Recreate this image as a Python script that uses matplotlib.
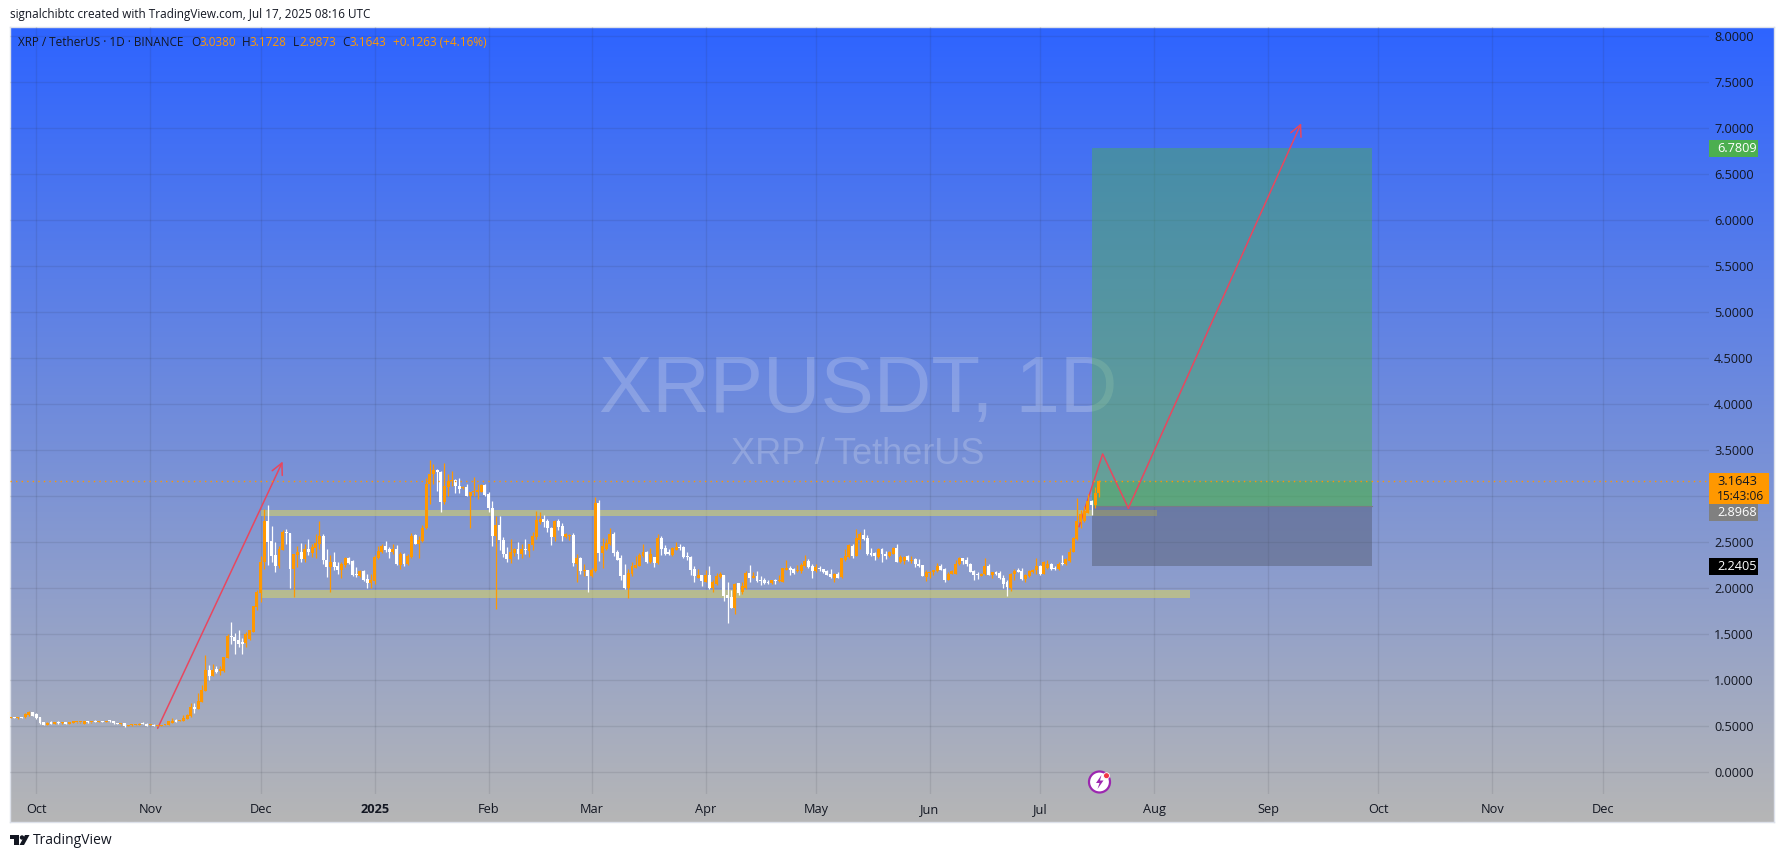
import numpy as np
import pandas as pd
import matplotlib
matplotlib.use('Agg')
import matplotlib.pyplot as plt
import matplotlib.dates as mdates
from matplotlib.patches import Rectangle, Circle, Polygon

plt.rcParams['font.family'] = ['Open Sans', 'DejaVu Sans']

# daily candles from 2024-09-24 to 2025-07-17
first_day = '2024-09-24'
opens = [
    .590,.598,.590,.598,.596,.620,.650,.633,.596,.546,
    .518,.540,.530,.540,.532,.538,.530,.540,.544,.542,
    .530,.553,.542,.556,.548,.552,.548,.556,.553,.535,
    .524,.535,.505,.512,.516,.518,.535,.528,.514,.514,
    .505,.503,.514,.514,.539,.564,.557,.557,.579,.611,
    .709,.687,.767,.882,1.117,1.049,1.121,1.099,1.099,1.244,
    1.479,1.468,1.435,1.414,1.406,1.453,1.524,1.797,1.949,2.284,
    2.726,2.509,2.357,2.237,2.418,2.606,2.599,2.205,2.357,2.389,
    2.321,2.422,2.382,2.44,2.48,2.563,2.31,2.227,2.281,2.237,
    2.194,2.248,2.328,2.295,2.154,2.133,2.187,2.097,2.053,2.078,
    2.328,2.393,2.454,2.425,2.389,2.422,2.256,2.368,2.259,2.339,
    2.577,2.483,2.509,2.653,3.134,3.242,3.289,3.268,2.942,3.098,
    3.163,3.177,3.116,3.094,3.105,3.008,3.044,3.051,3.044,3.127,
    3.026,2.874,2.563,2.693,2.527,2.375,2.313,2.386,2.422,2.375,
    2.422,2.404,2.465,2.556,2.718,2.754,2.726,2.66,2.556,2.736,
    2.682,2.556,2.563,2.574,2.266,2.328,2.187,2.194,2.129,2.183,
    2.932,2.378,2.422,2.476,2.595,2.389,2.328,2.14,2.003,2.158,
    2.223,2.241,2.35,2.389,2.281,2.335,2.27,2.545,2.436,2.389,
    2.357,2.418,2.444,2.447,2.346,2.339,2.205,2.115,2.14,2.071,
    2.14,2.006,2.042,2.118,2.14,1.923,1.905,1.786,2.053,1.956,
    2.003,2.162,2.115,2.133,2.086,2.086,2.068,2.057,2.089,2.075,
    2.071,2.201,2.216,2.209,2.187,2.187,2.237,2.292,2.241,2.183,
    2.22,2.209,2.187,2.151,2.115,2.158,2.122,2.31,2.339,2.462,
    2.346,2.527,2.581,2.548,2.382,2.382,2.339,2.422,2.375,2.346,
    2.375,2.436,2.284,2.295,2.35,2.295,2.313,2.266,2.248,2.122,
    2.169,2.176,2.183,2.245,2.209,2.086,2.158,2.158,2.259,2.324,
    2.303,2.266,2.187,2.151,2.136,2.151,2.237,2.147,2.172,2.165,
    2.115,2.064,2.006,2.151,2.194,2.187,2.1,2.129,2.172,2.194,
    2.241,2.158,2.223,2.259,2.216,2.205,2.266,2.259,2.295,2.393,
    2.534,2.718,2.726,2.823,2.953,2.91,3.038]
highs = [
    .600,.600,.600,.602,.640,.662,.660,.642,.605,.548,
    .545,.552,.548,.560,.542,.540,.545,.548,.548,.548,
    .555,.556,.550,.566,.556,.556,.556,.566,.560,.540,
    .530,.538,.516,.520,.522,.535,.542,.532,.530,.524,
    .515,.518,.528,.558,.593,.575,.572,.618,.629,.749,
    .749,.857,.947,1.273,1.164,1.182,1.153,1.153,1.255,1.508,
    1.634,1.515,1.544,1.457,1.526,1.55,1.812,1.978,2.346,2.863,
    2.91,2.682,2.501,2.454,2.628,2.646,2.599,2.368,2.462,2.49,
    2.476,2.53,2.483,2.585,2.726,2.592,2.429,2.357,2.389,2.284,
    2.284,2.339,2.339,2.31,2.23,2.201,2.194,2.158,2.158,2.357,
    2.454,2.483,2.509,2.447,2.476,2.465,2.393,2.382,2.368,2.599,
    2.592,2.566,2.689,3.196,3.398,3.351,3.297,3.279,3.362,3.242,
    3.279,3.188,3.199,3.116,3.134,3.047,3.214,3.134,3.134,3.134,
    3.044,2.953,2.78,2.78,2.556,2.447,2.538,2.44,2.501,2.476,
    2.53,2.483,2.61,2.838,2.834,2.801,2.754,2.671,2.744,2.751,
    2.711,2.606,2.592,2.603,2.368,2.335,2.259,2.201,2.216,2.997,
    2.961,2.541,2.538,2.65,2.61,2.411,2.357,2.259,2.212,2.284,
    2.35,2.382,2.476,2.404,2.44,2.342,2.585,2.57,2.465,2.429,
    2.447,2.498,2.476,2.454,2.389,2.346,2.237,2.212,2.147,2.201,
    2.237,2.086,2.165,2.176,2.147,2.068,1.977,2.06,2.057,2.071,
    2.183,2.248,2.176,2.183,2.129,2.115,2.086,2.093,2.097,2.14,
    2.223,2.303,2.237,2.216,2.248,2.274,2.357,2.313,2.259,2.259,
    2.237,2.212,2.194,2.209,2.165,2.172,2.332,2.429,2.476,2.483,
    2.646,2.61,2.646,2.574,2.44,2.393,2.44,2.44,2.404,2.404,
    2.447,2.476,2.357,2.35,2.357,2.346,2.328,2.321,2.248,2.201,
    2.187,2.201,2.277,2.266,2.216,2.176,2.201,2.31,2.339,2.332,
    2.339,2.274,2.194,2.18,2.165,2.332,2.259,2.18,2.187,2.187,
    2.14,2.086,2.165,2.212,2.223,2.223,2.151,2.201,2.212,2.324,
    2.252,2.292,2.31,2.274,2.237,2.281,2.357,2.332,2.44,2.556,
    2.979,2.852,2.892,3.026,2.961,3.098,3.1728]
lows = [
    .585,.590,.580,.590,.592,.615,.608,.580,.527,.515,
    .515,.528,.525,.530,.525,.528,.526,.535,.538,.540,
    .528,.538,.538,.545,.544,.545,.544,.548,.530,.520,
    .518,.492,.498,.505,.510,.515,.525,.505,.510,.500,
    .500,.500,.510,.510,.535,.548,.555,.555,.575,.604,
    .644,.685,.765,.880,1.002,1.045,1.074,1.056,1.095,1.240,
    1.399,1.284,1.363,1.284,1.363,1.435,1.52,1.768,1.851,2.212,
    2.248,2.284,2.176,2.223,2.411,2.483,1.999,1.905,2.23,2.284,
    2.284,2.357,2.339,2.332,2.429,2.259,2.122,1.959,2.194,2.158,
    2.115,2.23,2.266,2.129,2.122,2.122,2.078,2.003,2.003,2.05,
    2.321,2.386,2.393,2.332,2.375,2.256,2.205,2.237,2.248,2.332,
    2.476,2.328,2.501,2.646,2.917,3.134,3.055,2.827,2.917,3.008,
    3.116,3.033,3.036,3.08,3.008,2.653,3.008,2.971,3.044,3.008,
    2.827,2.454,1.778,2.411,2.339,2.284,2.274,2.346,2.321,2.332,
    2.375,2.339,2.411,2.534,2.70,2.664,2.61,2.465,2.512,2.628,
    2.512,2.548,2.527,2.237,2.068,2.151,2.133,1.956,2.122,2.176,
    2.292,2.216,2.411,2.465,2.35,2.303,2.086,1.988,1.898,2.129,
    2.223,2.237,2.342,2.274,2.274,2.23,2.266,2.357,2.357,2.357,
    2.35,2.411,2.411,2.332,2.303,2.144,2.064,2.115,2.021,2.064,
    1.995,1.956,2.031,2.115,1.862,1.623,1.786,1.724,1.927,1.941,
    1.995,2.071,2.115,2.071,2.031,2.042,2.05,2.046,2.042,2.068,
    2.068,2.194,2.14,2.158,2.18,2.169,2.23,2.223,2.115,2.176,
    2.187,2.169,2.14,2.107,2.071,2.107,2.115,2.295,2.332,2.324,
    2.346,2.422,2.52,2.357,2.346,2.303,2.332,2.284,2.313,2.339,
    2.368,2.281,2.277,2.266,2.295,2.274,2.23,2.23,2.129,2.075,
    2.115,2.14,2.176,2.194,2.068,2.086,2.151,2.151,2.248,2.259,
    2.245,2.172,2.086,2.104,2.129,2.147,2.14,2.115,2.144,2.097,
    2.0,1.912,1.97,2.093,2.172,2.093,2.064,2.122,2.165,2.158,
    2.147,2.151,2.212,2.201,2.201,2.201,2.256,2.252,2.288,2.389,
    2.527,2.657,2.718,2.816,2.801,2.874,2.9873]
closes = [
    .598,.592,.596,.592,.633,.655,.612,.590,.532,.518,
    .538,.530,.542,.532,.538,.530,.540,.544,.546,.546,
    .552,.542,.548,.548,.552,.550,.552,.552,.535,.524,
    .526,.506,.512,.516,.518,.530,.528,.508,.524,.506,
    .512,.514,.524,.553,.561,.550,.568,.593,.618,.709,
    .687,.774,.893,1.117,1.045,1.117,1.092,1.121,1.251,1.482,
    1.468,1.424,1.399,1.396,1.508,1.544,1.808,1.956,2.285,2.726,
    2.501,2.35,2.237,2.422,2.61,2.599,2.205,2.368,2.393,2.321,
    2.422,2.389,2.447,2.487,2.563,2.303,2.227,2.284,2.227,2.194,
    2.259,2.328,2.277,2.14,2.144,2.187,2.086,2.053,2.086,2.339,
    2.4,2.454,2.411,2.393,2.422,2.259,2.368,2.259,2.346,2.57,
    2.483,2.52,2.66,3.134,3.242,3.289,3.26,2.942,3.109,3.17,
    3.174,3.109,3.08,3.102,3.008,3.047,3.062,3.062,3.127,3.018,
    2.87,2.563,2.693,2.52,2.368,2.313,2.393,2.422,2.375,2.422,
    2.415,2.476,2.563,2.744,2.754,2.718,2.653,2.556,2.736,2.671,
    2.563,2.585,2.57,2.27,2.324,2.183,2.194,2.129,2.194,2.932,
    2.378,2.458,2.494,2.595,2.378,2.31,2.129,2.003,2.169,2.237,
    2.248,2.357,2.389,2.281,2.375,2.27,2.545,2.422,2.368,2.368,
    2.436,2.444,2.436,2.335,2.339,2.201,2.129,2.14,2.075,2.14,
    2.006,2.064,2.136,2.158,1.912,1.898,1.786,2.05,1.952,2.024,
    2.165,2.111,2.136,2.075,2.075,2.057,2.057,2.089,2.082,2.089,
    2.216,2.216,2.194,2.169,2.194,2.248,2.295,2.23,2.183,2.23,
    2.205,2.176,2.144,2.122,2.158,2.115,2.324,2.346,2.465,2.353,
    2.545,2.592,2.538,2.375,2.357,2.346,2.429,2.368,2.346,2.393,
    2.436,2.284,2.342,2.342,2.303,2.303,2.259,2.241,2.133,2.176,
    2.176,2.194,2.245,2.201,2.086,2.158,2.187,2.263,2.324,2.292,
    2.259,2.176,2.14,2.14,2.158,2.237,2.147,2.172,2.158,2.107,
    2.05,2.013,2.158,2.187,2.18,2.1,2.14,2.183,2.201,2.245,
    2.158,2.284,2.266,2.209,2.205,2.266,2.259,2.321,2.397,2.545,
    2.726,2.809,2.845,2.953,2.91,3.04,3.1643]

price_ticks = [0.0, 0.5, 1.0, 1.5, 2.0, 2.5, 3.0, 3.5, 4.0, 4.5, 5.0, 5.5, 6.0, 6.5, 7.0, 7.5, 8.0]
month_ticks = ['2024-10-01', '2024-11-01', '2024-12-01', '2025-01-01', '2025-02-01', '2025-03-01', '2025-04-01',
               '2025-05-01', '2025-06-01', '2025-07-01', '2025-08-01', '2025-09-01', '2025-10-01', '2025-11-01',
               '2025-12-01']
month_labels = ['Oct', 'Nov', 'Dec', '2025', 'Feb', 'Mar', 'Apr', 'May', 'Jun', 'Jul', 'Aug', 'Sep', 'Oct', 'Nov', 'Dec']

# drawings
arrow1_dates = ['2024-11-03', '2024-12-07']
arrow1_prices = [0.478, 3.378]
zigzag_dates = ['2025-07-11 14:00', '2025-07-18', '2025-07-25', '2025-09-10']
zigzag_prices = [2.67, 3.46, 2.87, 7.054]
upper_zone = (2.786, 2.851, '2024-12-01', '2025-08-01 18:00')
lower_zone = (1.898, 1.98, '2024-12-01', '2025-08-10 18:00')
position_dates = ['2025-07-15', '2025-09-29 06:00']
entry, stop, target, last_price = 2.8968, 2.2405, 6.7809, 3.1643

W, H = 1784, 858
fig = plt.figure(figsize=(W / 100, H / 100), dpi=100, facecolor='white')


def num(d):
    return mdates.date2num(pd.Timestamp(d))


# gradient behind the whole chart, price and time panels included
bg = fig.add_axes([10 / W, 1 - 822 / H, 1764 / W, 795 / H])
top_c = np.array([46, 100, 255]) / 255
bot_c = np.array([182, 182, 182]) / 255
ramp = np.linspace(0, 1, 400)[:, None, None]
bg.imshow(top_c * (1 - ramp) + bot_c * ramp, aspect='auto')
bg.set_xticks([])
bg.set_yticks([])
for s in bg.spines.values():
    s.set_color('#dde1ea')
    s.set_linewidth(1)

ax = fig.add_axes([10 / W, 1 - 794 / H, 1699 / W, 767 / H])
ax.patch.set_alpha(0)
for s in ax.spines.values():
    s.set_visible(False)

px_day = 3.677
x0 = num('2024-10-01')
ax.set_xlim(x0 + (10 - 36.3) / px_day, x0 + (1709 - 36.3) / px_day)
ax.set_ylim(-0.236, 8.10)

ax.yaxis.tick_right()
ax.set_yticks(price_ticks)
ax.set_yticklabels(['%.4f' % p for p in price_ticks])
ax.set_xticks([num(d) for d in month_ticks])
ax.set_xticklabels(month_labels)
ax.tick_params(axis='both', length=0, labelsize=9.2, labelcolor='#131722')
ax.tick_params(axis='y', pad=3.6)
ax.tick_params(axis='x', pad=6.5)
ax.get_xticklabels()[3].set_fontweight('bold')
ax.grid(True, color='#2a2e39', alpha=0.11, linewidth=1)
ax.set_axisbelow(True)

# watermark
ax.text((858 - 10) / 1699, (794 - 392) / 767, 'XRPUSDT, 1D', transform=ax.transAxes,
        ha='center', va='center', fontsize=57.4, family='Liberation Sans', color='white', alpha=0.2, zorder=1.5)
ax.text((858 - 10) / 1699, (794 - 454) / 767, 'XRP / TetherUS', transform=ax.transAxes,
        ha='center', va='center', fontsize=26, family='Liberation Sans', color='white', alpha=0.2, zorder=1.5)

# support and resistance zones
zone_c = (210 / 255, 207 / 255, 107 / 255, 0.6)
for lo, hi, start, end in [upper_zone, lower_zone]:
    ax.add_patch(Rectangle((num(start), lo), num(end) - num(start), hi - lo, fc=zone_c, ec='none', zorder=2))

# long position tool
p0, p1 = num(position_dates[0]), num(position_dates[1])
green = '#4caf50'
ax.add_patch(Rectangle((p0, entry), p1 - p0, target - entry, fc=green, alpha=0.45, ec='none', zorder=3))
ax.add_patch(Rectangle((p0, entry), p1 - p0, last_price - entry, fc=green, alpha=0.35, ec='none', zorder=3))
ax.add_patch(Rectangle((p0, stop), p1 - p0, entry - stop, fc='#4b5061', alpha=0.4, ec='none', zorder=3))
ax.plot([p0, p1], [entry, entry], color='#787b86', lw=0.8, zorder=3.2)

# red drawings
red = '#e8475f'
head = '->,head_length=0.8,head_width=0.4'
ax.annotate('', xy=(num(arrow1_dates[1]), arrow1_prices[1]), xytext=(num(arrow1_dates[0]), arrow1_prices[0]),
            arrowprops=dict(arrowstyle=head, color=red, lw=1.1, shrinkA=0, shrinkB=0), zorder=4)
ax.plot([num(d) for d in zigzag_dates[:3]], zigzag_prices[:3], color=red, lw=1.1, zorder=4)
ax.annotate('', xy=(num(zigzag_dates[3]), zigzag_prices[3]), xytext=(num(zigzag_dates[2]), zigzag_prices[2]),
            arrowprops=dict(arrowstyle=head, color=red, lw=1.1, shrinkA=0, shrinkB=0), zorder=4)

# candles
df = pd.DataFrame({'open': opens, 'high': highs, 'low': lows, 'close': closes},
                  index=pd.date_range(first_day, periods=len(opens), freq='D'))
xs = mdates.date2num(df.index)
cols = np.where(df['close'] >= df['open'], '#ff9800', '#ffffff')
ax.vlines(xs, df['low'], df['high'], colors=cols, linewidth=0.9, zorder=5)
body_lo = df[['open', 'close']].min(axis=1)
body_h = np.maximum((df['close'] - df['open']).abs(), 0.012)
ax.bar(xs, body_h, bottom=body_lo, width=0.8, color=cols, linewidth=0, zorder=5.1)

# last price line
ax.axhline(last_price, color='#ff9800', lw=1, ls=(0, (1, 3)), zorder=5.2)

# price labels on the axis
ytr = ax.get_yaxis_transform()


def price_label(y, txt, fc, tc, w=49, h=17, shift=0):
    # shift is in pixels, the label is pushed down when another one sits on it
    yc = y - shift / 92
    ax.add_patch(Rectangle((1, yc - h / 2 / 92), w / 1699, h / 92, transform=ytr, fc=fc, ec='none',
                           clip_on=False, zorder=6))
    ax.text(1 + 8 / 1699, yc, txt, transform=ytr, color=tc, fontsize=9.2, va='center', ha='left', zorder=7)


price_label(target, '%.4f' % target, green, 'white')
price_label(entry, '%.4f' % entry, '#808080', 'white', shift=6.6)
price_label(stop, '%.4f' % stop, 'black', 'white')
# orange last price box holds the countdown as well
ax.add_patch(Rectangle((1, last_price - 23 / 92), 60 / 1699, 31 / 92, transform=ytr, fc='#ff9800', ec='none',
                       clip_on=False, zorder=6))
ax.text(1 + 8 / 1699, last_price, '%.4f' % last_price, transform=ytr, color='#131722', fontsize=9.2, va='center', zorder=7)
ax.text(1 + 8 / 1699, last_price - 15 / 92, '15:43:06', transform=ytr, color='#131722', fontsize=8.6, va='center', zorder=7)

# page furniture in pixel coordinates
top = fig.add_axes([0, 0, 1, 1])
top.set_xlim(0, W)
top.set_ylim(H, 0)
top.axis('off')
top.patch.set_alpha(0)

top.text(10, 14.7, 'signalchibtc created with TradingView.com, Jul 17, 2025 08:16 UTC', fontsize=8.5,
         color='#131722', va='center')

dark, orange = '#131722', '#ff9800'
legend_parts = [(18, 'XRP / TetherUS · 1D · BINANCE', dark), (191, 'O', dark), (199, '3.0380', orange),
                (242, 'H', dark), (250, '3.1728', orange), (293, 'L', dark), (299, '2.9873', orange),
                (342, 'C', dark), (349, '3.1643', orange), (393, '+0.1263 (+4.16%)', orange)]
for x, s, c in legend_parts:
    top.text(x, 42, s, color=c, fontsize=8.5, va='center')

# TradingView logo
top.add_patch(Polygon([(10, 835), (19, 835), (19, 845), (14, 845), (14, 839), (10, 839)], fc='#131722', ec='none'))
top.add_patch(Circle((22, 837.5), 2.2, fc='#131722', ec='none'))
top.add_patch(Polygon([(25, 835), (29.5, 835), (24, 845), (19.5, 845)], fc='#131722', ec='none'))
top.text(33, 840.5, 'TradingView', fontsize=10, color='#131722', va='center')

# news icon
top.add_patch(Circle((1099.5, 782), 10.5, fc='white', ec='#9c27b0', lw=1.6))
top.add_patch(Polygon([(1101.5, 775), (1096, 783), (1099.5, 783), (1097.5, 789), (1103.5, 780.5), (1100, 780.5)],
                      fc='#9c27b0', ec='none'))
top.add_patch(Circle((1106.5, 775.7), 3, fc='#f23645', ec='white', lw=0.6))

fig.savefig('out.png', dpi=100, facecolor='white')
